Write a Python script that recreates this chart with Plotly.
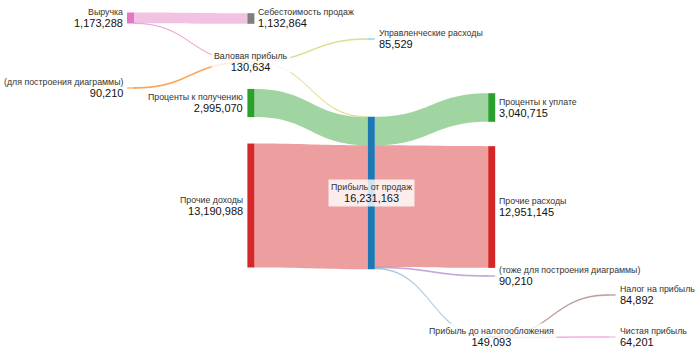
import plotly.graph_objects as go

# ---- data ----
node_names = [
    "Выручка",                         # 0
    "(для построения диаграммы)",      # 1
    "Себестоимость продаж",            # 2
    "Валовая прибыль",                 # 3
    "Проценты к получению",            # 4
    "Прочие доходы",                   # 5
    "Управленческие расходы",          # 6
    "Прибыль от продаж",               # 7
    "Проценты к уплате",               # 8
    "Прочие расходы",                  # 9
    "(тоже для построения диаграммы)", # 10
    "Прибыль до налогообложения",      # 11
    "Налог на прибыль",                # 12
    "Чистая прибыль",                  # 13
]
link_sources = [0, 0, 1, 3, 3, 4, 5, 7, 7, 7, 7, 11, 11]
link_targets = [2, 3, 3, 6, 7, 7, 7, 8, 9, 10, 11, 12, 13]
link_values = [1132864, 40424, 90210, 85529, 45105, 2995070, 13190988,
               3040715, 12951145, 90210, 149093, 84892, 64201]

# ---- styling / layout ----
node_colors = ["#e377c2", "#ff7f0e", "#7f7f7f", "#bcbd22", "#2ca02c", "#d62728",
               "#17becf", "#1f77b4", "#2ca02c", "#d62728", "#9467bd", "#1f77b4",
               "#8c564b", "#e377c2"]
link_colors = [
    "rgba(227,119,194,0.45)", "rgba(227,119,194,0.4)", "rgba(255,127,14,0.55)",
    "rgba(188,189,34,0.3)", "rgba(188,189,34,0.3)", "rgba(44,160,44,0.45)",
    "rgba(214,39,40,0.45)", "rgba(44,160,44,0.45)", "rgba(214,39,40,0.45)",
    "rgba(148,103,189,0.4)", "rgba(31,119,180,0.4)", "rgba(140,86,75,0.35)",
    "rgba(227,119,194,0.4)",
]
W, H = 700, 350
col_of_node = [0, 0, 1, 1, 1, 1, 2, 2, 3, 3, 3, 3, 4, 4]
col_x_px = [130.5, 250.9, 371.3, 491.7, 612.1]
node_y_px = [18, 88, 18.5, 62, 103, 205.5, 39, 193, 107.5, 207, 276, 337, 295, 337]
node_x = [col_x_px[c] / W for c in col_of_node]
node_y = [y / H for y in node_y_px]
THICK = 7

# node totals (max of in/out) for labels
n = len(node_names)
tin = [0] * n
tout = [0] * n
for s, t, v in zip(link_sources, link_targets, link_values):
    tout[s] += v
    tin[t] += v
node_totals = [max(a, b) for a, b in zip(tin, tout)]

fig = go.Figure(go.Sankey(
    arrangement="fixed",
    domain=dict(x=[0, 1], y=[0, 1]),
    textfont=dict(color="rgba(0,0,0,0)", size=1),
    node=dict(
        label=node_names,
        x=node_x,
        y=node_y,
        pad=31,
        thickness=THICK,
        color=node_colors,
        line=dict(width=0),
        hoverinfo="none",
    ),
    link=dict(
        source=link_sources,
        target=link_targets,
        value=link_values,
        color=link_colors,
        hoverinfo="none",
    ),
))

annotations = []
for i, name in enumerate(node_names):
    text = (f"<span style='font-size:8.8px;color:#333'>{name}</span><br>"
            f"<span style='font-size:11px;color:#111'>{node_totals[i]:,}</span>")
    ann = dict(xref="paper", yref="paper", x=node_x[i], y=1 - node_y[i],
               text=text, showarrow=False, yanchor="middle",
               font=dict(family="Liberation Sans, Arial, sans-serif", size=9, color="#222"))
    if tin[i] == 0:
        ann.update(xanchor="right", align="right", xshift=-(THICK / 2 + 2))
    elif tout[i] == 0:
        ann.update(xanchor="left", align="left", xshift=THICK / 2 + 2)
    else:
        ann.update(xanchor="center", align="center",
                   bgcolor="rgba(255,255,255,0.8)", borderpad=2)
    annotations.append(ann)

fig.update_layout(
    width=W, height=H,
    margin=dict(l=0, r=0, t=0, b=0),
    paper_bgcolor="white",
    plot_bgcolor="white",
    annotations=annotations,
    font=dict(family="Liberation Sans, Arial, sans-serif"),
)

fig.write_html("out.html")
